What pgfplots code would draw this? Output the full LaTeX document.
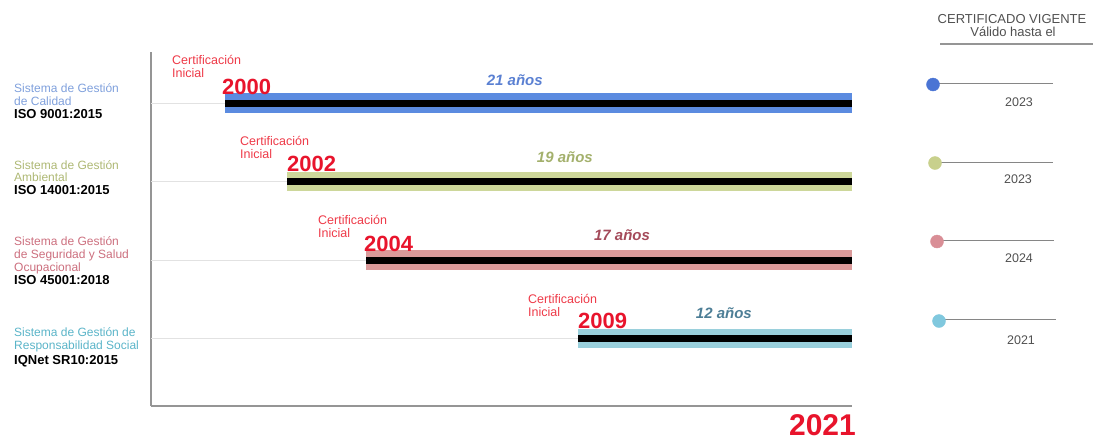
\documentclass[border=0pt]{standalone}
\usepackage{pgfplots}
\pgfplotsset{compat=1.18}
\usepackage{fontspec}
\setmainfont{Liberation Sans}
\definecolor{barA}{HTML}{5B8BE0}
\definecolor{barB}{HTML}{CDD79A}
\definecolor{barC}{HTML}{DA9A9A}
\definecolor{barD}{HTML}{9AD0DC}
\definecolor{txtA}{HTML}{7FA0DC}
\definecolor{txtB}{HTML}{AEB874}
\definecolor{txtC}{HTML}{CC6F7E}
\definecolor{txtD}{HTML}{5AB4C8}
\definecolor{durA}{HTML}{5A80D2}
\definecolor{durB}{HTML}{A3B06C}
\definecolor{durC}{HTML}{A44A5A}
\definecolor{durD}{HTML}{4D7E96}
\definecolor{dotA}{HTML}{4A74D4}
\definecolor{dotB}{HTML}{C8D08C}
\definecolor{dotC}{HTML}{D98E96}
\definecolor{dotD}{HTML}{80C8DE}
\definecolor{redY}{HTML}{E8142C}
\definecolor{redS}{HTML}{EE3A48}
\definecolor{axisgray}{HTML}{959595}
\definecolor{rowgray}{HTML}{E2E2E2}
\definecolor{hdrgray}{HTML}{505050}
\newcommand{\fs}[2]{\fontsize{#1}{#2}\selectfont}
\begin{document}
\begin{tikzpicture}[x=1pt,y=1pt,every node/.style={inner sep=0pt}]
\useasboundingbox (0,0) rectangle (1094,440);
% ---------- canvas axis (pixel units, y downward) ----------
\begin{axis}[at={(0pt,0pt)},anchor=south west,scale only axis,
  width=1094pt,height=440pt,xmin=0,xmax=1094,ymin=0,ymax=440,
  y dir=reverse,hide axis,clip=false]
% left labels
\node[anchor=base west,text=txtA,font=\fs{12}{13}] at (axis cs:14,92) {Sistema de Gestión};
\node[anchor=base west,text=txtA,font=\fs{12}{13}] at (axis cs:14,105) {de Calidad};
\node[anchor=base west,text=black,font=\bfseries\fs{13}{14}] at (axis cs:14,118.5) {ISO 9001:2015};
\node[anchor=base west,text=txtB,font=\fs{12}{13}] at (axis cs:14,169) {Sistema de Gestión};
\node[anchor=base west,text=txtB,font=\fs{12}{13}] at (axis cs:14,181.5) {Ambiental};
\node[anchor=base west,text=black,font=\bfseries\fs{13}{14}] at (axis cs:14,194.5) {ISO 14001:2015};
\node[anchor=base west,text=txtC,font=\fs{12}{13}] at (axis cs:14,245) {Sistema de Gestión};
\node[anchor=base west,text=txtC,font=\fs{12}{13}] at (axis cs:14,258) {de Seguridad y Salud};
\node[anchor=base west,text=txtC,font=\fs{12}{13}] at (axis cs:14,271) {Ocupacional};
\node[anchor=base west,text=black,font=\bfseries\fs{13}{14}] at (axis cs:14,284.5) {ISO 45001:2018};
\node[anchor=base west,text=txtD,font=\fs{12}{13}] at (axis cs:14,336) {Sistema de Gestión de};
\node[anchor=base west,text=txtD,font=\fs{12}{13}] at (axis cs:14,349.5) {Responsabilidad Social};
\node[anchor=base west,text=black,font=\bfseries\fs{13}{14}] at (axis cs:14,364) {IQNet SR10:2015};
% right header
\node[anchor=base,text=hdrgray,font=\fs{13}{15}] at (axis cs:1012,23) {CERTIFICADO VIGENTE};
\node[anchor=base,text=hdrgray,font=\fs{13}{15}] at (axis cs:1013,36) {Válido hasta el};
\addplot[draw=axisgray,line width=2pt] coordinates {(940,44) (1093,44)};
% validity rows
\addplot[draw=axisgray!90!black,line width=1.3pt] coordinates {(933,83.5) (1053,83.5)};
\addplot[draw=axisgray!90!black,line width=1.3pt] coordinates {(935,162.5) (1053,162.5)};
\addplot[draw=axisgray!90!black,line width=1.3pt] coordinates {(937,240.5) (1054,240.5)};
\addplot[draw=axisgray!90!black,line width=1.3pt] coordinates {(939,319.5) (1056,319.5)};
\addplot[only marks,mark=*,mark size=6.5pt,color=dotA,mark options={draw=dotA,fill=dotA}] coordinates {(933,84.5)};
\addplot[only marks,mark=*,mark size=6.5pt,color=dotB,mark options={draw=dotB,fill=dotB}] coordinates {(935,163)};
\addplot[only marks,mark=*,mark size=6.5pt,color=dotC,mark options={draw=dotC,fill=dotC}] coordinates {(937,241.5)};
\addplot[only marks,mark=*,mark size=6.5pt,color=dotD,mark options={draw=dotD,fill=dotD}] coordinates {(939,321)};
\node[anchor=base,text=hdrgray,font=\fs{12.5}{14}] at (axis cs:1019,106) {2023};
\node[anchor=base,text=hdrgray,font=\fs{12.5}{14}] at (axis cs:1018,183) {2023};
\node[anchor=base,text=hdrgray,font=\fs{12.5}{14}] at (axis cs:1019,262) {2024};
\node[anchor=base,text=hdrgray,font=\fs{12.5}{14}] at (axis cs:1021,344) {2021};
\end{axis}
% ---------- main timeline axis ----------
\begin{axis}[at={(151pt,34pt)},anchor=south west,scale only axis,
  width=701pt,height=354pt,
  xmin=1997.613,xmax=2021,ymin=0.1401,ymax=4.6497,
  axis x line=bottom,axis y line=left,
  axis line style={-,draw=axisgray,line width=2pt},
  xtick=\empty,ytick=\empty,clip=false,
  x coord trafo/.code={\pgfmathparse{(#1<2002) ? (225+31*(#1-2000)) : ((#1<2004) ? (287+39.5*(#1-2002)) : ((#1<2009) ? (366+42.4*(#1-2004)) : (578+22.8333*(#1-2009))))}},
  x coord inv trafo/.code={\pgfmathparse{#1}}]
% light row guides
\addplot[draw=rowgray,line width=1pt] coordinates {(1997.62,4) (2021,4)};
\addplot[draw=rowgray,line width=1pt] coordinates {(1997.62,3) (2021,3)};
\addplot[draw=rowgray,line width=1pt] coordinates {(1997.62,2) (2021,2)};
\addplot[draw=rowgray,line width=1pt] coordinates {(1997.62,1) (2021,1)};
% coloured bars
\addplot[draw=barA,line width=19.5pt] coordinates {(2000,4) (2021,4)};
\addplot[draw=barB,line width=19.5pt] coordinates {(2002,3) (2021,3)};
\addplot[draw=barC,line width=19.5pt] coordinates {(2004,2) (2021,2)};
\addplot[draw=barD,line width=19.5pt] coordinates {(2009,1) (2021,1)};
% black core lines
\addplot[draw=black,line width=7pt] coordinates {(2000,4) (2021,4)};
\addplot[draw=black,line width=7pt] coordinates {(2002,3) (2021,3)};
\addplot[draw=black,line width=7pt] coordinates {(2004,2) (2021,2)};
\addplot[draw=black,line width=7pt] coordinates {(2009,1) (2021,1)};
% start years
\node[anchor=base west,text=redY,font=\bfseries\fs{22}{24},xshift=-3pt,yshift=9pt] at (axis cs:2000,4) {2000};
\node[anchor=base west,text=redY,font=\bfseries\fs{22}{24},xshift=0pt,yshift=10pt] at (axis cs:2002,3) {2002};
\node[anchor=base west,text=redY,font=\bfseries\fs{22}{24},xshift=-2pt,yshift=9pt] at (axis cs:2004,2) {2004};
\node[anchor=base west,text=redY,font=\bfseries\fs{22}{24},xshift=0pt,yshift=10.5pt] at (axis cs:2009,1) {2009};
% Certificación Inicial
\node[anchor=base west,text=redS,font=\fs{12.5}{13},xshift=-53pt,yshift=39pt] at (axis cs:2000,4) {Certificación};
\node[anchor=base west,text=redS,font=\fs{12.5}{13},xshift=-53pt,yshift=26pt] at (axis cs:2000,4) {Inicial};
\node[anchor=base west,text=redS,font=\fs{12.5}{13},xshift=-47pt,yshift=36pt] at (axis cs:2002,3) {Certificación};
\node[anchor=base west,text=redS,font=\fs{12.5}{13},xshift=-47pt,yshift=23pt] at (axis cs:2002,3) {Inicial};
\node[anchor=base west,text=redS,font=\fs{12.5}{13},xshift=-48pt,yshift=36pt] at (axis cs:2004,2) {Certificación};
\node[anchor=base west,text=redS,font=\fs{12.5}{13},xshift=-48pt,yshift=23pt] at (axis cs:2004,2) {Inicial};
\node[anchor=base west,text=redS,font=\fs{12.5}{13},xshift=-50pt,yshift=35.5pt] at (axis cs:2009,1) {Certificación};
\node[anchor=base west,text=redS,font=\fs{12.5}{13},xshift=-50pt,yshift=22pt] at (axis cs:2009,1) {Inicial};
% durations
\node[anchor=base,text=durA,font=\bfseries\itshape\fs{15}{17},yshift=18pt] at (axis cs:2007.51,4) {21 años};
\node[anchor=base,text=durB,font=\bfseries\itshape\fs{15}{17},yshift=19.5pt] at (axis cs:2008.69,3) {19 años};
\node[anchor=base,text=durC,font=\bfseries\itshape\fs{15}{17},yshift=20pt] at (axis cs:2010.93,2) {17 años};
\node[anchor=base,text=durD,font=\bfseries\itshape\fs{15}{17},yshift=20pt] at (axis cs:2015.39,1) {12 años};
% end year
\node[anchor=base east,text=redY,font=\bfseries\fs{30}{32},xshift=4pt,yshift=-29pt] at (axis cs:2021,0.1401) {2021};
\end{axis}
\end{tikzpicture}
\end{document}
